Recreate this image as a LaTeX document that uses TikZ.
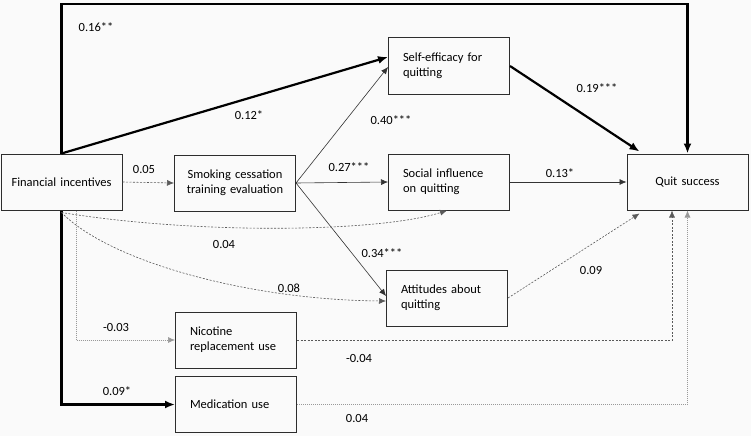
\documentclass[tikz,border=0pt]{standalone}
\usepackage{fontspec}
\setmainfont{Carlito}
\usepackage{tikz}
\usetikzlibrary{arrows.meta}
\usetikzlibrary{positioning}
\definecolor{bgcol}{RGB}{250,250,250}
\definecolor{boxcol}{RGB}{45,45,45}

\begin{document}
\begin{tikzpicture}[x=1pt,y=-1pt,>={Latex[length=7pt,width=6pt]},
    font=\fontsize{12.5}{15}\selectfont,
    var/.style={draw=boxcol,line width=1pt,minimum width=121pt,minimum height=56pt,
        inner sep=0pt,text width=92pt,align=left},
    varc/.style={var,align=center,text width=112pt},
    strong/.style={-{Latex[length=10pt,width=8pt]},line width=2.2pt},
    plain/.style={->,line width=0.6pt,draw=black!80},
    ns/.style={->,line width=0.6pt,dash pattern=on 2pt off 1.5pt,draw=black!65},
    nsfaint/.style={->,line width=0.6pt,dash pattern=on 1pt off 1pt,draw=black!40},
    coef/.style={inner sep=0pt}]
    % background and frame
    \fill [bgcol] (0,0) rectangle (751,436);
    \useasboundingbox (0,0) rectangle (751,436);

    % variables
    \node [varc] (fin) at (61.5,182) {Financial incentives};
    \node [varc] (train) at (235,183) {Smoking cessation\\training evaluation};
    \node [var] (self) at (449,66) {Self-efficacy for\\quitting};
    \node [var] (social) at (449,182) {Social influence\\on quitting};
    \node [var] (att) at (447,298) {Attitudes about\\quitting};
    \node [varc] (quit) at (687.5,182) {Quit success};
    \node [var] (nrt) at (236,340) {Nicotine\\replacement use};
    \node [var] (med) at (236,404.5) {Medication use};
    \coordinate (topbar) at (0,4);

    % significant paths
    \draw [strong] (fin.north) -- (fin.north |- topbar) -| (quit.north);
    \draw [strong] (fin.north) -- ([yshift=9pt]self.west);
    \draw [strong] (self.east) -- ([xshift=13pt,yshift=2pt]quit.north west);
    \draw [strong] (fin.south) |- (med.west);
    \draw [plain] (train.east) -- ([yshift=-1pt]self.west);
    \draw [plain] (train.east) -- (social.west);
    \draw [plain] (train.east) -- ([yshift=2pt]att.west);
    \draw [plain] (social.east) -- (quit.west);

    % non-significant paths
    \draw [ns] (fin.east) -- (train.west);
    \draw [ns] ([yshift=-2pt]fin.south) .. controls (200,235) and (380,232) .. ([xshift=-2pt]social.south);
    \draw [ns] ([yshift=-2pt]fin.south) .. controls (110,262) and (250,300) .. ([yshift=-3pt]att.west);
    \draw [ns] (att.east) -- ([xshift=13pt,yshift=-3pt]quit.south west);
    \draw [ns] (nrt.east) -| ([xshift=-15.5pt]quit.south);
    \draw [nsfaint] ([xshift=14.5pt]fin.south) |- (nrt.west);
    \draw [nsfaint] (med.east) -| (quit.south);

    % coefficients
    \node [coef] (c1) at (96,27) {0.16**};
    \node [coef] (c2) at (249,115) {0.12*};
    \node [coef] (c3) at (144,169) {0.05};
    \node [coef] (c4) at (349,167) {0.27***};
    \node [coef] (c5) at (391,120) {0.40***};
    \node [coef] (c6) at (597,88) {0.19***};
    \node [coef] (c7) at (560,173) {0.13*};
    \node [coef] (c8) at (224,244) {0.04};
    \node [coef] (c9) at (289,288) {0.08};
    \node [coef] (c10) at (382,253) {0.34***};
    \node [coef] (c11) at (591,270) {0.09};
    \node [coef] (c12) at (116,327) {-0.03};
    \node [coef] (c13) at (359,358) {-0.04};
    \node [coef] (c14) at (117,391) {0.09*};
    \node [coef] (c15) at (357,418) {0.04};
\end{tikzpicture}
\end{document}
